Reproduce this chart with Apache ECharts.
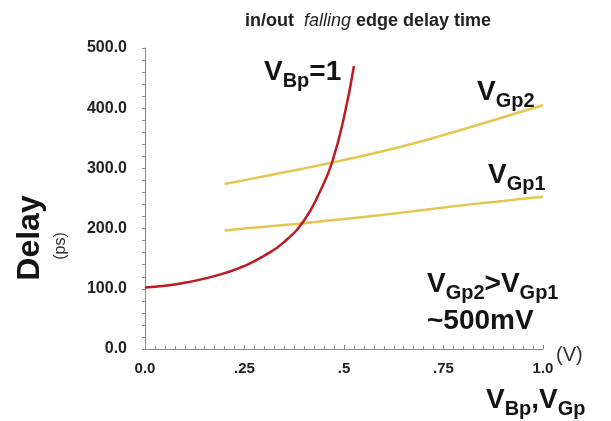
<!DOCTYPE html>
<html>
<head>
<meta charset="utf-8">
<script src="https://cdn.jsdelivr.net/npm/echarts@6/dist/echarts.min.js"></script>
<style>
  html, body { margin: 0; padding: 0; background: #fff; }
  #chart { width: 611px; height: 421px; }
</style>
</head>
<body>
<div id="chart"></div>
<script>
// Axis ticks and their printed labels
const xTicks = [0, 0.25, 0.5, 0.75, 1.0];
const xTickLabels = ['0.0', '.25', '.5', '.75', '1.0'];
const yTicks = [0, 100, 200, 300, 400, 500];
const yTickLabels = ['0.0', '100.0', '200.0', '300.0', '400.0', '500.0'];

// Delay (ps) versus back-gate bias V_Bp, with V_Bp = 1
const vbpVolt  = [0, 0.05, 0.1, 0.15, 0.2, 0.25, 0.3, 0.35, 0.4, 0.44, 0.47, 0.5, 0.525];
const vbpDelay = [102, 105, 110, 117, 126, 138, 155, 178, 214, 262, 310, 385, 470];

// Delay (ps) versus gate bias for V_Gp2
const vgp2Volt  = [0.2, 0.3, 0.4, 0.5, 0.6, 0.7, 0.8, 0.9, 1.0];
const vgp2Delay = [274, 287, 300, 314, 329, 346, 365, 385, 405];

// Delay (ps) versus gate bias for V_Gp1
const vgp1Volt  = [0.2, 0.3, 0.4, 0.5, 0.6, 0.7, 0.8, 0.9, 1.0];
const vgp1Delay = [197, 203, 209, 216, 223, 231, 239, 246, 253];

const FONT = 'Liberation Sans, Arial, Helvetica, sans-serif';
const INK = '#141414';

const zip = (xs, ys) => xs.map((x, i) => [x, ys[i]]);

// Rich-text styles: large symbol with a lowered subscript
const sym = { fontFamily: FONT, fontSize: 28, fontWeight: 'bold', color: INK, lineHeight: 28, padding: [0, 0, 5, 0], verticalAlign: 'bottom' };
const sub = { fontFamily: FONT, fontSize: 20, fontWeight: 'bold', color: INK, lineHeight: 20, verticalAlign: 'bottom' };
const note = (text, left, top) => ({
  text, left, top, padding: 0,
  textStyle: { rich: { v: sym, s: sub } }
});

const chart = echarts.init(document.getElementById('chart'), null, { renderer: 'canvas' });

chart.setOption({
  animation: false,
  backgroundColor: '#fff',
  title: [
    {
      text: '{b|in/out  }{i|falling}{b| edge delay time}',
      left: 368, top: 12, textAlign: 'center', padding: 0,
      textStyle: {
        rich: {
          b: { fontFamily: FONT, fontSize: 18, fontWeight: 'bold', color: '#222' },
          i: { fontFamily: FONT, fontSize: 18, fontStyle: 'italic', fontWeight: 'normal', color: '#222' }
        }
      }
    },
    note('{v|V}{s|Bp}{v|=1}', 264, 63),
    note('{v|V}{s|Gp2}', 477, 83),
    note('{v|V}{s|Gp1}', 488, 166),
    note('{v|V}{s|Gp2}{v|>V}{s|Gp1}', 427, 275),
    {
      text: '~500mV', left: 427, top: 307, padding: 0,
      textStyle: { fontFamily: FONT, fontSize: 28, fontWeight: 'bold', color: INK }
    },
    note('{v|V}{s|Bp}{v|,V}{s|Gp}', 486, 391),
    {
      text: '(V)', left: 556, top: 345, padding: 0,
      textStyle: { fontFamily: FONT, fontSize: 20, fontWeight: 'normal', color: '#333' }
    }
  ],
  graphic: [
    {
      type: 'text', x: 30, y: 238, rotation: Math.PI / 2,
      style: { text: 'Delay', font: 'bold 32px ' + FONT, fill: INK, align: 'center', verticalAlign: 'middle' }
    },
    {
      type: 'text', x: 61, y: 246, rotation: Math.PI / 2,
      style: { text: '(ps)', font: '16px ' + FONT, fill: '#333', align: 'center', verticalAlign: 'middle' }
    }
  ],
  grid: { left: 145, top: 48, width: 398, height: 301, containLabel: false },
  xAxis: {
    type: 'value', min: 0, max: 1, interval: 0.25,
    offset: 3,
    axisLine: { show: true, lineStyle: { color: '#8a8a8a', width: 1 } },
    axisTick: { show: true, inside: true, length: 4, lineStyle: { color: '#8a8a8a' } },
    minorTick: { show: true, splitNumber: 10, length: 3, lineStyle: { color: '#8a8a8a' } },
    splitLine: { show: false },
    axisLabel: {
      margin: 9, fontFamily: FONT, fontSize: 15, fontWeight: 'bold', color: '#222',
      formatter: v => {
        const i = xTicks.findIndex(t => Math.abs(t - v) < 1e-9);
        return i >= 0 ? xTickLabels[i] : '';
      }
    }
  },
  yAxis: {
    type: 'value', min: 0, max: 500, interval: 100,
    offset: 4,
    axisLine: { show: true, lineStyle: { color: '#8a8a8a', width: 1 } },
    axisTick: { show: true, inside: false, length: 3, lineStyle: { color: '#8a8a8a' } },
    minorTick: { show: true, splitNumber: 5, length: 3, lineStyle: { color: '#8a8a8a' } },
    splitLine: { show: false },
    axisLabel: {
      margin: 14, fontFamily: FONT, fontSize: 16, fontWeight: 'bold', color: '#222',
      formatter: v => {
        const i = yTicks.indexOf(v);
        return i >= 0 ? yTickLabels[i] : '';
      }
    }
  },
  series: [
    {
      name: 'VGp2', type: 'line', data: zip(vgp2Volt, vgp2Delay),
      smooth: 0.3, symbol: 'none',
      lineStyle: { color: '#e6c650', width: 2.5 }
    },
    {
      name: 'VGp1', type: 'line', data: zip(vgp1Volt, vgp1Delay),
      smooth: 0.3, symbol: 'none',
      lineStyle: { color: '#e6c650', width: 2.5 }
    },
    {
      name: 'VBp', type: 'line', data: zip(vbpVolt, vbpDelay),
      smooth: 0.5, symbol: 'none',
      lineStyle: { color: '#be1a22', width: 2.5 }
    }
  ]
});
</script>
</body>
</html>
